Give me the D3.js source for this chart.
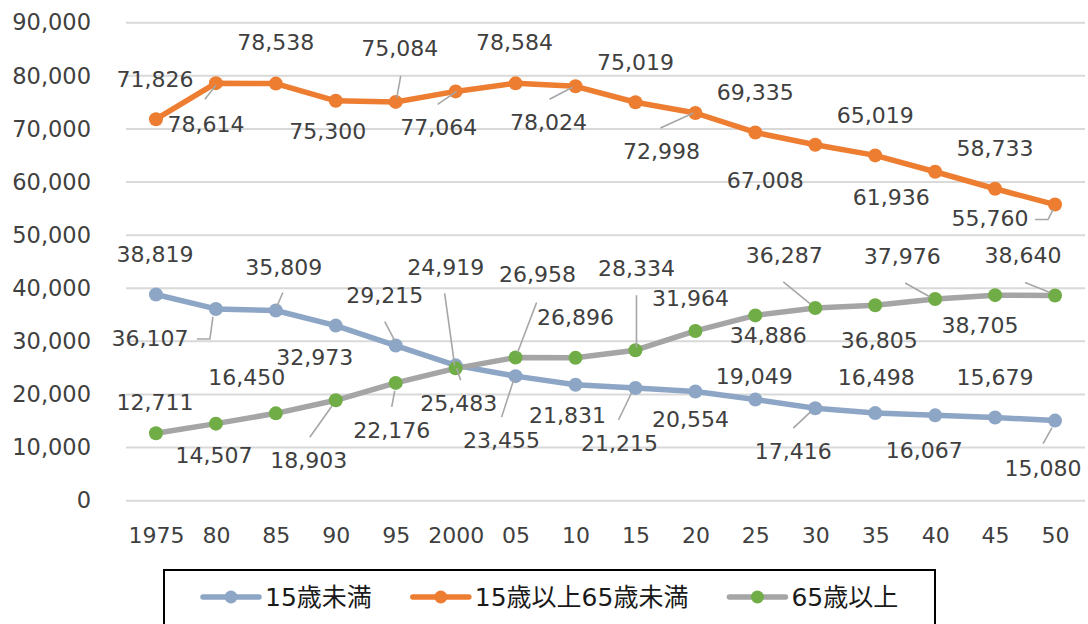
<!DOCTYPE html>
<html>
<head>
<meta charset="utf-8">
<script src="https://cdn.jsdelivr.net/npm/d3@7"></script>
<style>
  html, body { margin: 0; padding: 0; background: #fff; }
  svg { display: block; }
  text { font-family: "DejaVu Sans", "Noto Sans CJK JP", sans-serif; fill: #404040; }
</style>
</head>
<body>
<svg id="chart" width="1088" height="624"></svg>
<script>
// ---- data ----
const categories = ["1975","80","85","90","95","2000","05","10","15","20","25","30","35","40","45","50"];
const under15   = [38819,36107,35809,32973,29215,25483,23455,21831,21215,20554,19049,17416,16498,16067,15679,15080];
const age15to64 = [71826,78614,78538,75300,75084,77064,78584,78024,75019,72998,69335,67008,65019,61936,58733,55760];
const over65    = [12711,14507,16450,18903,22176,24919,26958,26896,28334,31964,34886,36287,36805,37976,38705,38640];
const yTicks    = [0,10000,20000,30000,40000,50000,60000,70000,80000,90000];
const seriesNames = ["15歳未満","15歳以上65歳未満","65歳以上"];

// ---- label placement (pixel offsets from each point) ----
const labelOffsets = [
  [[-1,-40],[-66,29],[8,-43],[-21,32],[-11,-50],[3,38],[-14,64],[-8,30],[-16,55],[-5,28],[-1,-23],[-22,43],[1,-36],[-11,35],[0,-40],[-12,47]],
  [[-1,-40],[-10,41],[0,-41],[-8,30],[4,-54],[-17,36],[-1,-41],[-27,36],[0,-40],[-34,38],[0,-40],[-50,35],[0,-40],[-44,25],[0,-41],[-65,14]],
  [[-1,-31],[-2,31],[-29,-36],[-27,60],[-4,47],[-10,-101],[22,-83],[0,-41],[1,-82],[-5,-33],[13,20],[-31,-53],[4,35],[-33,-43],[-15,30],[-32,-40]]
];
// leader lines: [series, index, polyline offsets from point]
const leaders = [
  [0,1,[[-19,30],[-6,30],[-3,8]]],
  [0,2,[[7,-18],[1,-4]]],
  [0,4,[[-11,-24],[-1,-5]]],
  [0,5,[[1,3],[5,15]]],
  [0,6,[[-14,41],[-2,4]]],
  [0,8,[[-17,32],[-4,5]]],
  [0,11,[[-22,20],[-5,4]]],
  [0,15,[[-12,23],[-3,7]]],
  [1,1,[[-11,16],[0,2]]],
  [1,4,[[5,-26],[1,-4]]],
  [1,5,[[-18,13],[1,0]]],
  [1,7,[[-26,13],[-3,1]]],
  [1,9,[[-35,15],[-2,0]]],
  [1,15,[[-20,15],[-7,15],[-2,5]]],
  [2,3,[[-26,37],[-4,6]]],
  [2,4,[[-4,24],[-1,8]]],
  [2,5,[[-11,-75],[-1,-3]]],
  [2,6,[[21,-55],[2,-5]]],
  [2,8,[[1,-55],[1,-3]]],
  [2,11,[[-32,-26],[-5,-4]]],
  [2,13,[[-30,-16],[-5,-2]]],
  [2,15,[[-30,-13],[-5,-3]]]
];

const series = [under15, age15to64, over65];
const lineColors = ["#8EA6C6", "#ED7D31", "#A5A5A5"];
const markerColors = ["#8EA6C6", "#ED7D31", "#70AD47"];

const svg = d3.select("#chart");
const plotLeft = 126, plotRight = 1085, plotTop = 22.7, plotBottom = 500.7;

const x = d3.scalePoint().domain(categories).range([plotLeft, plotRight]).padding(0.5);
const y = d3.scaleLinear().domain([0, 90000]).range([plotBottom, plotTop]);
const fmt = d3.format(",");

// gridlines
svg.append("g").selectAll("line").data(yTicks).join("line")
  .attr("x1", plotLeft).attr("x2", plotRight)
  .attr("y1", d => y(d)).attr("y2", d => y(d))
  .attr("stroke", "#D9D9D9").attr("stroke-width", 2);

// y axis
const yAxis = svg.append("g").attr("transform", `translate(${plotLeft},0)`)
  .call(d3.axisLeft(y).tickValues(yTicks).tickSize(0).tickPadding(35).tickFormat(fmt));
yAxis.select(".domain").remove();
yAxis.attr("font-family", null).attr("font-size", null);
yAxis.selectAll("text").style("font-size", "22.5px").attr("fill", "#404040");

// x axis
const xAxis = svg.append("g").attr("transform", `translate(0,${plotBottom})`)
  .call(d3.axisBottom(x).tickSize(0).tickPadding(27));
xAxis.select(".domain").remove();
xAxis.attr("font-family", null).attr("font-size", null);
xAxis.selectAll("text").style("font-size", "22px").attr("fill", "#404040");

// lines & markers
const line = d3.line().x((d, i) => x(categories[i])).y(d => y(d));
series.forEach((s, k) => {
  svg.append("path").datum(s).attr("d", line)
    .attr("fill", "none").attr("stroke", lineColors[k]).attr("stroke-width", 5.5)
    .attr("stroke-linejoin", "round");
});
series.forEach((s, k) => {
  svg.append("g").selectAll("circle").data(s).join("circle")
    .attr("cx", (d, i) => x(categories[i])).attr("cy", d => y(d))
    .attr("r", 7).attr("fill", markerColors[k]);
});

// leader lines
const lg = svg.append("g");
leaders.forEach(([k, i, pts]) => {
  const px = x(categories[i]), py = y(series[k][i]);
  lg.append("polyline")
    .attr("points", pts.map(p => `${px + p[0]},${py + p[1]}`).join(" "))
    .attr("fill", "none").attr("stroke", "#A6A6A6").attr("stroke-width", 1.6);
});

// data labels
series.forEach((s, k) => {
  svg.append("g").selectAll("text").data(s).join("text")
    .attr("x", (d, i) => x(categories[i]) + labelOffsets[k][i][0])
    .attr("y", (d, i) => y(d) + labelOffsets[k][i][1])
    .attr("dy", "0.36em").attr("text-anchor", "middle")
    .style("font-size", "22px")
    .text(d => fmt(d));
});

// legend
const legend = svg.append("g");
legend.append("rect").attr("x", 164).attr("y", 570).attr("width", 771).attr("height", 80)
  .attr("fill", "#fff").attr("stroke", "#000").attr("stroke-width", 2);
let lx = 203;
const ly = 597;
seriesNames.forEach((name, k) => {
  legend.append("line").attr("x1", lx).attr("x2", lx + 56).attr("y1", ly).attr("y2", ly)
    .attr("stroke", lineColors[k]).attr("stroke-width", 5.5).attr("stroke-linecap", "round");
  legend.append("circle").attr("cx", lx + 28).attr("cy", ly).attr("r", 6.5).attr("fill", markerColors[k]);
  const t = legend.append("text").attr("x", lx + 62).attr("y", ly).attr("dy", "0.36em")
    .style("font-size", "25px").style("fill", "#1a1a1a").text(name);
  lx = lx + 62 + t.node().getComputedTextLength() + 41;
});
</script>
</body>
</html>
